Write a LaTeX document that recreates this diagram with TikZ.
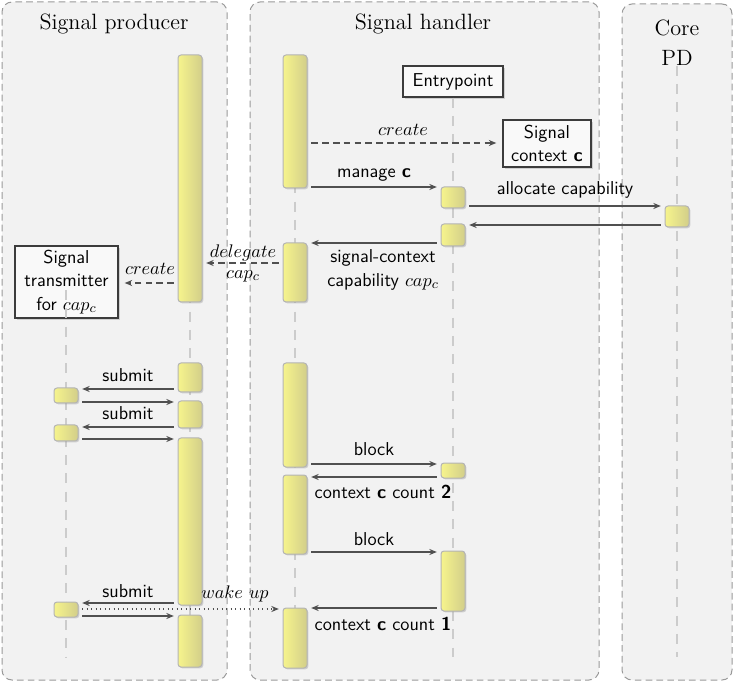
\documentclass[tikz,border=0pt]{standalone}
\usetikzlibrary{arrows.meta,shadows,fit}
\definecolor{frmfill}{HTML}{F2F2F2}
\definecolor{frmline}{HTML}{9A9A9A}
\definecolor{lifec}{HTML}{CCCCCC}
\definecolor{barL}{HTML}{F6F48C}
\definecolor{barR}{HTML}{D2CE8A}
\definecolor{barline}{HTML}{B4B4B4}
\definecolor{arrc}{HTML}{505050}
\definecolor{boxline}{HTML}{3C3C3C}
\definecolor{boxfill}{HTML}{F9F9F9}
\newcommand{\lblfont}{\sffamily\fontsize{11.2}{14}\selectfont}
\begin{document}
\begin{tikzpicture}[x=0.6pt,y=-0.6pt,
  frm/.style={draw=frmline, fill=frmfill, dash pattern=on 4pt off 2.5pt, rounded corners=6pt, line width=0.6pt, inner sep=0pt},
  title/.style={font=\fontsize{13.3}{18}\selectfont, align=center, inner sep=0pt},
  life/.style={draw=lifec, line width=0.8pt, dash pattern=on 6pt off 5pt},
  actbar/.style={draw=barline, line width=0.6pt, left color=barL, right color=barR, rounded corners=1.8pt, inner sep=0pt, drop shadow={opacity=0.3, shadow xshift=0.8pt, shadow yshift=-0.8pt}},
  objbox/.style={draw=boxline, fill=boxfill, line width=0.8pt, font=\lblfont, align=center, inner sep=0pt, drop shadow={opacity=0.3, shadow xshift=1pt, shadow yshift=-1pt}},
  msg/.style={draw=arrc, line width=0.7pt, -{Stealth[length=4.5pt,width=3.6pt]}, shorten <=2.2pt, shorten >=2.2pt},
  dashmsg/.style={dash pattern=on 4pt off 2.5pt},
  lbl/.style={font=\lblfont, inner sep=0pt, anchor=base},
  mlbl/.style={font=\lblfont, inner sep=0pt, align=center},
]
\useasboundingbox (0,0) rectangle (734,683);

% frames
\node[frm, fit={(2,2) (227,680)}] (fp) {};
\node[frm, fit={(250,2) (599,680)}] (fh) {};
\node[frm, fit={(622,4) (732,680)}] (fc) {};

% titles
\node[title, anchor=base] (tp) at (114,30) {Signal producer};
\node[title, anchor=base] (th) at (423,30) {Signal handler};
\node[title] (tc) at (677,42.5) {Core\\PD};

% objects
\node[objbox, minimum width=60pt, minimum height=18.6pt] (ep) at (453,81.5) {Entrypoint};
\node[objbox, minimum width=61.8pt, minimum height=43.2pt] (st) at (66.5,282) {Signal\\transmitter\\for $cap_c$};

% lifeline end points
\coordinate (pTop) at (190,55);
\coordinate (pEnd) at (190,667);
\coordinate (hTop) at (295,55);
\coordinate (hEnd) at (295,668);
\coordinate (eEnd) at (453,657);
\coordinate (cEnd) at (677,657);
\coordinate (tEnd) at (66,657);
\coordinate (tIn) at (66,290);

\draw[life] (pTop) -- (pEnd);
\draw[life] (hTop) -- (hEnd);
\draw[life] (ep.south) -- (eEnd);
\draw[life] (tc.south) -- (cEnd);
\draw[life] (tIn) -- (tEnd);

% signal context box (no lifeline)
\node[objbox, minimum width=52.8pt, minimum height=28.2pt] (sc) at (547,143.5) {Signal\\context \textbf{c}};

% activation bars
\node[actbar, fit={(178,55) (202,302)}] (p1) {};
\node[actbar, fit={(178,363) (202,392)}] (p2) {};
\node[actbar, fit={(178,401) (202,428)}] (p3) {};
\node[actbar, fit={(178,438) (202,605)}] (p4) {};
\node[actbar, fit={(178,615) (202,667)}] (p5) {};
\node[actbar, fit={(54,388) (78,403)}] (t1) {};
\node[actbar, fit={(54,425) (78,441)}] (t2) {};
\node[actbar, fit={(54,602) (78,617)}] (t3) {};
\node[actbar, fit={(283,55) (307,188)}] (h1) {};
\node[actbar, fit={(283,243) (307,302)}] (h2) {};
\node[actbar, fit={(283,363) (307,467)}] (h3) {};
\node[actbar, fit={(283,475) (307,554)}] (h4) {};
\node[actbar, fit={(283,608) (307,668)}] (h5) {};
\node[actbar, fit={(441,187) (465,208)}] (e1) {};
\node[actbar, fit={(441,224) (465,246)}] (e2) {};
\node[actbar, fit={(441,463) (465,478)}] (e3) {};
\node[actbar, fit={(441,551) (465,611)}] (e4) {};
\node[actbar, fit={(665,206) (689,227)}] (c1) {};

% messages
\draw[msg, dashmsg, shorten >=3.6pt] (h1.east |- 0,143) -- (sc.west |- 0,143);
\node[lbl] (l1) at (403,136) {$create$};
\draw[msg] (h1.east |- 0,187) -- (e1.west |- 0,187);
\node[lbl] (l2) at (374,178) {manage \textbf{c}};
\draw[msg] (e1.east |- 0,206) -- (c1.west |- 0,206);
\node[lbl] (l3) at (565,195) {allocate capability};
\draw[msg] (c1.west |- 0,225) -- (e2.east |- 0,225);
\draw[msg] (e2.west |- 0,243) -- (h2.east |- 0,243);
\node[mlbl] (l4) at (383,270) {signal-context\\capability $cap_c$};
\draw[msg, dashmsg] (h2.west |- 0,263) -- (p1.east |- 0,263);
\node[mlbl, font=\fontsize{11.2}{12.6}\selectfont] (l5) at (243,263) {$delegate$\\$cap_c$};
\draw[msg, dashmsg, shorten >=3.6pt] (p1.west |- 0,283) -- (st.east |- 0,283);
\node[lbl] (l6) at (150,275) {$create$};

\draw[msg] (p2.west |- 0,389) -- (t1.east |- 0,389);
\node[lbl] (l7) at (128,382) {submit};
\draw[msg] (t1.east |- 0,402) -- (p3.west |- 0,402);
\draw[msg] (p3.west |- 0,427) -- (t2.east |- 0,427);
\node[lbl] (l8) at (128,419) {submit};
\draw[msg] (t2.east |- 0,439) -- (p4.west |- 0,439);

\draw[msg] (h3.east |- 0,464) -- (e3.west |- 0,464);
\node[lbl] (l9) at (374,456) {block};
\draw[msg] (e3.west |- 0,477) -- (h4.east |- 0,477);
\node[lbl] (l10) at (383,498) {context \textbf{c} count \textbf{2}};
\draw[msg] (h4.east |- 0,552) -- (e4.west |- 0,552);
\node[lbl] (l11) at (374,545) {block};
\draw[msg] (e4.west |- 0,608) -- (h5.east |- 0,608);
\node[lbl] (l12) at (383,630) {context \textbf{c} count \textbf{1}};

\draw[msg] (p4.west |- 0,603) -- (t3.east |- 0,603);
\node[lbl] (l13) at (128,597) {submit};
\draw[msg, dotted] (t3.east |- 0,609) -- (h5.west |- 0,609);
\node[lbl] (l14) at (235,598) {$wake\ up$};
\draw[msg] (t3.east |- 0,616) -- (p5.west |- 0,616);
\end{tikzpicture}
\end{document}
